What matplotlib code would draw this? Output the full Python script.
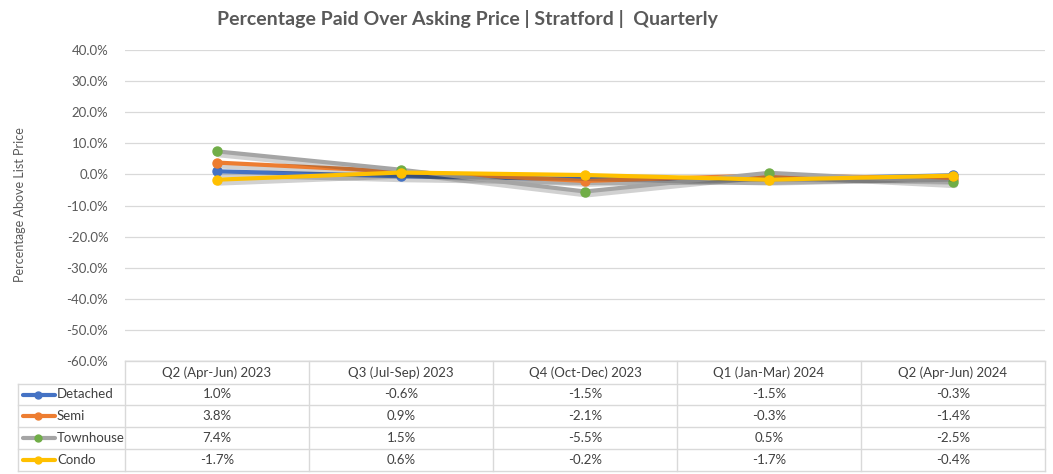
import matplotlib
matplotlib.use("Agg")
import matplotlib.pyplot as plt
import matplotlib.patheffects as pe

plt.rcParams['font.family'] = ['Lato', 'DejaVu Sans']

categories = ["Q2 (Apr-Jun) 2023", "Q3 (Jul-Sep) 2023", "Q4 (Oct-Dec) 2023",
              "Q1 (Jan-Mar) 2024", "Q2 (Apr-Jun) 2024"]
series_names = ["Detached", "Semi", "Townhouse", "Condo"]
detached = [1.0, -0.6, -1.5, -1.5, -0.3]
semi = [3.8, 0.9, -2.1, -0.3, -1.4]
townhouse = [7.4, 1.5, -5.5, 0.5, -2.5]
condo = [-1.7, 0.6, -0.2, -1.7, -0.4]
series_values = [detached, semi, townhouse, condo]
y_ticks = [40, 30, 20, 10, 0, -10, -20, -30, -40, -50, -60]

line_colors = ["#4472C4", "#ED7D31", "#A5A5A5", "#FFC000"]
marker_colors = ["#4472C4", "#ED7D31", "#70AD47", "#FFC000"]

W, H = 1053, 474
fig = plt.figure(figsize=(W / 100, H / 100), dpi=100)

def fx(px):
    return px / W

def fy(py):
    return 1 - py / H

left, right, top, bottom = 125, 1045, 50, 361
ax = fig.add_axes([fx(left), fy(bottom), fx(right) - fx(left), fy(top) - fy(bottom)])
ax.set_xlim(-0.5, len(categories) - 0.5)
ax.set_ylim(-60, 40)
ax.set_yticks(y_ticks)
ax.set_yticklabels([f"{t:.1f}%" for t in y_ticks], fontsize=9.5, color="#595959")
ax.set_xticks([])
ax.tick_params(axis='y', length=0, pad=12)
ax.grid(axis='y', color="#D9D9D9", linewidth=0.9)
ax.set_axisbelow(True)
for s in ax.spines.values():
    s.set_visible(False)
ax.axhline(-60, color="#D9D9D9", linewidth=1.0)

xs = list(range(len(categories)))
shadow = [pe.SimpleLineShadow(offset=(1.2, -1.8), shadow_color='#303030', alpha=0.22, linewidth=5),
          pe.Normal()]
for vals, lc, mc in zip(series_values, line_colors, marker_colors):
    ax.plot(xs, vals, color=lc, linewidth=3.0, solid_capstyle='round', path_effects=shadow)
    ax.plot(xs, vals, linestyle='none', marker='o', markersize=6.5,
            markerfacecolor=mc, markeredgecolor=mc)

fig.text(fx(20), fy(205), "Percentage Above List Price", rotation=90, fontsize=9,
         color="#595959", ha='center', va='center')

fig.text(fx(467), fy(19), "Percentage Paid Over Asking Price | Stratford |  Quarterly",
         fontsize=14, fontweight='bold', color="#595959", ha='center', va='center')

# data table
tax = fig.add_axes([0, 0, 1, 1])
tax.set_xlim(0, W)
tax.set_ylim(H, 0)
tax.axis('off')
grid_c = "#D9D9D9"
col_w = (right - left) / len(categories)
row_top = [361, 384, 405, 427, 449]
row_bot = 471
legend_left = 18
tax.plot([left, right], [361, 361], color=grid_c, lw=1)
for y in row_top[1:] + [row_bot]:
    tax.plot([legend_left, right], [y, y], color=grid_c, lw=1)
for i in range(len(categories) + 1):
    x = left + i * col_w
    tax.plot([x, x], [361, row_bot], color=grid_c, lw=1)
tax.plot([legend_left, legend_left], [row_top[1], row_bot], color=grid_c, lw=1)

for i, c in enumerate(categories):
    tax.text(left + (i + 0.5) * col_w, (row_top[0] + row_top[1]) / 2, c,
             ha='center', va='center', fontsize=9.5, color="#404040")
for r, (name, vals, lc, mc) in enumerate(zip(series_names, series_values, line_colors, marker_colors)):
    y0 = row_top[r + 1]
    y1 = row_top[r + 2] if r + 2 < len(row_top) else row_bot
    yc = (y0 + y1) / 2
    tax.plot([23, 55], [yc, yc], color=lc, lw=3, solid_capstyle='round')
    tax.plot([38], [yc], marker='o', markersize=5, color=mc)
    tax.text(57, yc, name, ha='left', va='center', fontsize=9.5, color="#404040")
    for i, v in enumerate(vals):
        tax.text(left + (i + 0.5) * col_w, yc, f"{v:.1f}%", ha='center', va='center',
                 fontsize=9.5, color="#404040")

fig.savefig("out.png", dpi=100, facecolor='white')
